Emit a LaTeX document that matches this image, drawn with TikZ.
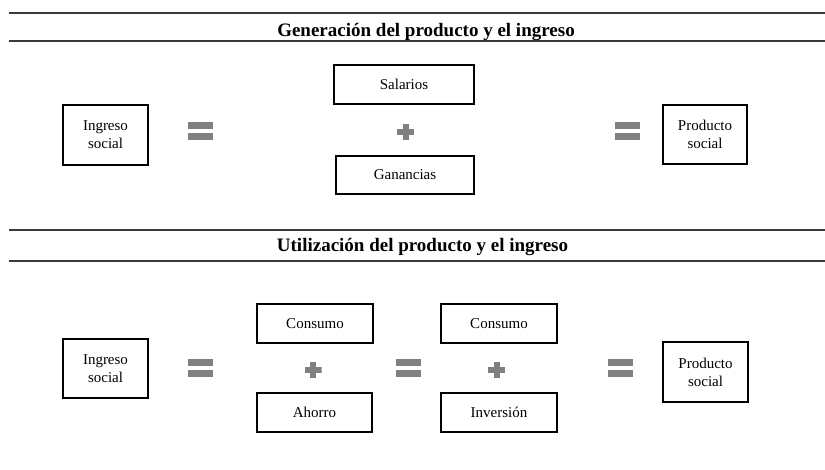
\documentclass[tikz,border=0pt]{standalone}
\usepackage{fontspec}
\setmainfont{Liberation Serif}
\definecolor{symgray}{HTML}{808080}
\definecolor{rulegray}{HTML}{3A3A3A}
\tikzset{
  box/.style={draw=black, line width=1.2pt, inner sep=0pt, align=center,
    font=\fontsize{15}{18}\selectfont},
  titletext/.style={anchor=base, inner sep=0pt, font=\fontsize{19}{22}\selectfont\bfseries},
  rulestyle/.style={draw=rulegray, line width=2pt},
  eqsign/.style={minimum width=25pt, minimum height=18pt, inner sep=0pt,
    path picture={
      \fill[symgray] (path picture bounding box.north west) rectangle ([yshift=-7pt]path picture bounding box.north east);
      \fill[symgray] (path picture bounding box.south west) rectangle ([yshift=7pt]path picture bounding box.south east);}},
  plussign/.style={minimum width=17pt, minimum height=16pt, inner sep=0pt,
    path picture={
      \fill[symgray] ([xshift=-3pt]path picture bounding box.north) rectangle ([xshift=3pt]path picture bounding box.south);
      \fill[symgray] ([yshift=-3pt]path picture bounding box.west) rectangle ([yshift=3pt]path picture bounding box.east);}}
}
\begin{document}
\begin{tikzpicture}[x=1pt,y=-1pt]
\useasboundingbox (0,0) rectangle (825,470);
% Section 1
\coordinate (r1a) at (9,13.5);  \coordinate (r1b) at (825,13.5);
\coordinate (r2a) at (9,41);    \coordinate (r2b) at (825,41);
\draw[rulestyle] (r1a) -- (r1b);
\draw[rulestyle] (r2a) -- (r2b);
\node[titletext] (t1) at (426,36.5) {Generación del producto y el ingreso};

\node[box, minimum width=85pt, minimum height=60pt] (ing1) at (105.5,135) {Ingreso\\social};
\node[eqsign] (eq1) at (200.5,131.5) {};
\node[box, minimum width=140pt, minimum height=39pt] (sal) at (404,84.5) {Salarios};
\node[plussign] (pl1) at (405.5,132) {};
\node[box, minimum width=138pt, minimum height=38pt] (gan) at (405,175) {Ganancias};
\node[eqsign] (eq2) at (627.5,131.5) {};
\node[box, minimum width=84pt, minimum height=59pt] (prod1) at (705,134.5) {Producto\\social};

% Section 2
\coordinate (r3a) at (9,230.5);  \coordinate (r3b) at (825,230.5);
\coordinate (r4a) at (9,261);    \coordinate (r4b) at (825,261);
\draw[rulestyle] (r3a) -- (r3b);
\draw[rulestyle] (r4a) -- (r4b);
\node[titletext] (t2) at (422.5,251.5) {Utilización del producto y el ingreso};

\node[box, minimum width=85pt, minimum height=59pt] (ing2) at (105.5,368.5) {Ingreso\\social};
\node[eqsign] (eq3) at (200.5,368.5) {};
\node[box, minimum width=116pt, minimum height=39pt] (cons1) at (315,323.5) {Consumo};
\node[plussign] (pl2) at (313,370) {};
\node[box, minimum width=115pt, minimum height=39pt] (aho) at (314.5,412.5) {Ahorro};
\node[eqsign] (eq4) at (408.5,368.5) {};
\node[box, minimum width=116pt, minimum height=39pt] (cons2) at (499,323.5) {Consumo};
\node[plussign] (pl3) at (496.5,370) {};
\node[box, minimum width=116pt, minimum height=39pt] (inv) at (499,412.5) {Inversión};
\node[eqsign] (eq5) at (620.5,368.5) {};
\node[box, minimum width=85pt, minimum height=60pt] (prod2) at (705.5,372) {Producto\\social};
\end{tikzpicture}
\end{document}
